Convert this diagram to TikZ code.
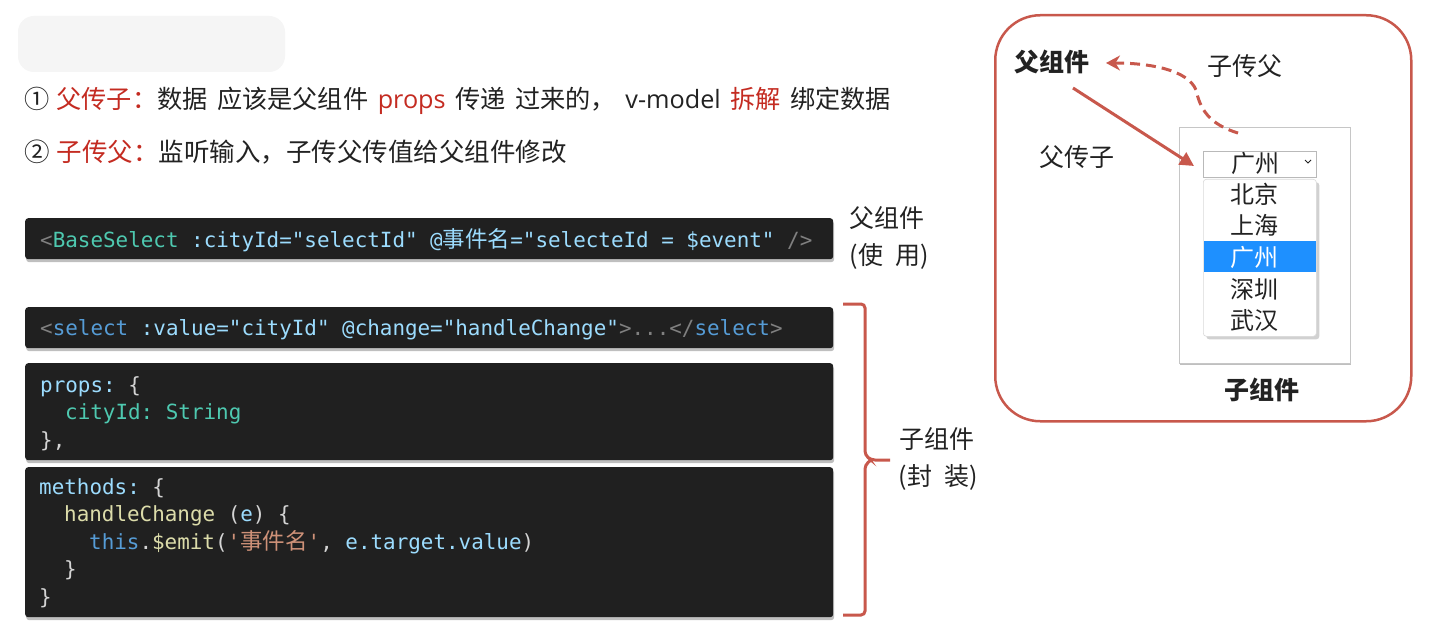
\documentclass[tikz,border=0pt]{standalone}
\usepackage{fontspec}
\usetikzlibrary{arrows.meta,shadows}
\setmainfont{Noto Sans CJK SC}
\newfontfamily\cjkf{Noto Sans CJK SC}
\newfontfamily\osf{Open Sans}
\setmonofont{DejaVu Sans Mono}
\definecolor{redtxt}{RGB}{196,43,33}
\definecolor{accent}{RGB}{200,88,76}
\definecolor{codebg}{RGB}{32,32,32}
\definecolor{cgray}{RGB}{128,128,128}
\definecolor{cteal}{RGB}{78,201,176}
\definecolor{clblue}{RGB}{156,220,254}
\definecolor{cblue}{RGB}{86,156,214}
\definecolor{cyellow}{RGB}{220,220,170}
\definecolor{corange}{RGB}{206,145,120}
\definecolor{cwhite}{RGB}{212,212,212}
\definecolor{txt}{RGB}{34,34,34}
\definecolor{hl}{RGB}{30,144,255}
\newcommand\mycodefont{\fontsize{20.9}{24}\selectfont\ttfamily}
\newcommand\mylblfont{\fontsize{25}{30}\selectfont\cjkf}
\newcommand\myitemfont{\fontsize{24}{28}\selectfont\cjkf}
\newcommand\cjcode[1]{{\fontsize{22.5}{24}\selectfont\cjkf #1}}
\newcommand\hs{\hspace{9.5pt}}
\begin{document}
\begin{tikzpicture}[x=1pt,y=-1pt,
  codebox/.style={fill=codebg, rounded corners=3pt, draw=none, anchor=north west, inner sep=0,
    drop shadow={shadow xshift=1pt, shadow yshift=-3pt, opacity=0.25, fill=black}},
  code/.style={anchor=base west, inner sep=0, font=\mycodefont, text=clblue},
  lbl/.style={inner sep=0, font=\mylblfont, text=txt},
  item/.style={inner sep=0, font=\myitemfont, text=txt},
  brace/.style={draw=accent, line width=3pt, rounded corners=4pt},
  arr/.style={draw=accent, line width=3pt, -{Triangle[length=14pt,width=14pt]}},
  darr/.style={draw=accent, line width=3pt, dash pattern=on 10pt off 6pt, -{Stealth[length=14pt,width=15pt]}}
]
\useasboundingbox (0,0) rectangle (1431,631);
\fill[white] (0,0) rectangle (1431,631);

% blurred patch
\fill[gray!8, rounded corners=16pt] (18,16) rectangle (285,72);

% intro lines
\node[lbl, anchor=base west, font=\fontsize{25.2}{30}\selectfont\cjkf] (l1) at (24,108.5) {①\hspace{7pt}\textcolor{redtxt}{父传子：}数据\hs 应该是父组件\hs\textcolor{redtxt}{\osf props}\hs 传递\hs 过来的，\hs{\osf v-model}\hs\textcolor{redtxt}{拆解}\hs 绑定数据};
\node[lbl, anchor=base west, font=\fontsize{25.5}{30}\selectfont\cjkf] (l2) at (24,161.5) {②\hspace{7pt}\textcolor{redtxt}{子传父：}监听输入，子传父传值给父组件修改};

% code boxes
\node[codebox, minimum width=808, minimum height=41] (b1) at (25,218) {};
\node[codebox, minimum width=808, minimum height=41] (b2) at (25,307) {};
\node[codebox, minimum width=808, minimum height=97] (b3) at (25,363) {};
\node[codebox, minimum width=808, minimum height=150] (b4) at (25,467) {};

\node[code] (c1) at (40,247) {\textcolor{cgray}{<}\textcolor{cteal}{BaseSelect} :cityId="selectId" @\cjcode{事件名}="selecteId = \$event" \textcolor{cgray}{/>}};
\node[code] (c2) at (40,335) {\textcolor{cgray}{<}\textcolor{cblue}{select} :value="cityId" @change="handleChange"\textcolor{cgray}{>...</}\textcolor{cblue}{select}\textcolor{cgray}{>}};

\node[code] (p1) at (40,392) {props: \textcolor{cwhite}{\{}};
\node[code] (p2) at (65,419.5) {\textcolor{cteal}{cityId: String}};
\node[code] (p3) at (40,447) {\textcolor{cwhite}{\},}};

\node[code] (m1) at (39,494) {methods: \textcolor{cwhite}{\{}};
\node[code] (m2) at (64,521.5) {\textcolor{cyellow}{handleChange} \textcolor{cwhite}{(}e\textcolor{cwhite}{) \{}};
\node[code] (m3) at (89,549) {\textcolor{cblue}{this}\textcolor{cwhite}{.}\textcolor{cyellow}{\$emit}\textcolor{cwhite}{(}\textcolor{corange}{\textquotesingle\cjcode{事件名}\textquotesingle}\textcolor{cwhite}{,} e.target.value\textcolor{cwhite}{)}};
\node[code] (m4) at (64,576.5) {\textcolor{cwhite}{\}}};
\node[code] (m5) at (39,604) {\textcolor{cwhite}{\}}};

% labels beside code
\node[lbl] (fz) at (887,218) {父组件};
\node[lbl] (sy) at (889,256) {(使\hspace{12pt}用)};
\node[lbl] (zz) at (937,439) {子组件};
\node[lbl] (fzh) at (938,477) {(封\hspace{12pt}装)};

% brace
\coordinate (bt) at (843,304);
\coordinate (bb) at (843,615);
\coordinate (btip) at (890,460);
\draw[brace] (bt) -- (865,304) -- (865,455) -- (871,460) -- (btip);
\draw[brace] (871,460) -- (865,465) -- (865,615) -- (bb);

% right panel
\node[draw=accent, line width=2.5pt, rounded corners=45pt, minimum width=416, minimum height=406, anchor=north west, inner sep=0] (panel) at (994,14) {};

\node[lbl, font=\mylblfont\bfseries] (pz) at (1052,62) {父组件};
\node[lbl] (zcf) at (1245,66) {子传父};
\node[lbl] (fcz) at (1077,157) {父传子};
\node[lbl, font=\mylblfont\bfseries] (cz) at (1262,390) {子组件};

% child box
\node[draw=gray!45, fill=white, line width=0.8pt, minimum width=171, minimum height=236, anchor=north west, inner sep=0,
  drop shadow={shadow xshift=1pt, shadow yshift=-2pt, opacity=0.25, fill=black}] (child) at (1179,127) {};

% select box
\node[draw=gray!55, fill=white, line width=0.8pt, minimum width=113, minimum height=26, anchor=north west, inner sep=0] (sel) at (1203,151) {};
\node[item] (selt) at (1255,163) {广州};
\draw[txt, line width=0.9pt] (1305,160) -- (1308,163) -- (1311,160);

% dropdown list
\node[draw=gray!30, fill=white, line width=0.6pt, rounded corners=3pt, minimum width=113, minimum height=157, anchor=north west, inner sep=0,
  drop shadow={shadow xshift=3pt, shadow yshift=-3pt, opacity=0.18, fill=black}] (list) at (1203,179) {};
\fill[hl] (1203.5,241) rectangle (1315.5,272);
\node[item] (i1) at (1254,194) {北京};
\node[item] (i2) at (1254,225) {上海};
\node[item, text=white] (i3) at (1254,257) {广州};
\node[item] (i4) at (1254,289) {深圳};
\node[item] (i5) at (1254,320) {武汉};

% arrows
\coordinate (a1) at (1073,88);
\coordinate (a2) at (1194,166);
\draw[arr] (a1) -- (a2);
\coordinate (d1) at (1238,133);
\coordinate (d2) at (1106,63);
\draw[darr] (d1) .. controls (1208,124) and (1200,108) .. (1196,90) .. controls (1188,70) and (1150,63) .. (d2);
\end{tikzpicture}
\end{document}
